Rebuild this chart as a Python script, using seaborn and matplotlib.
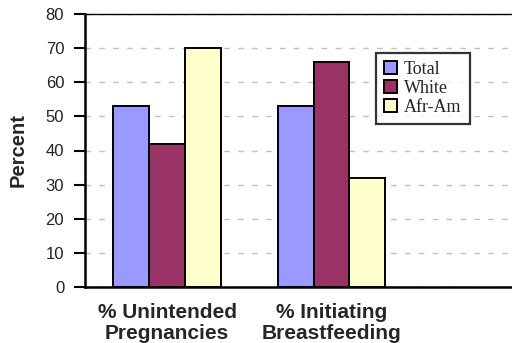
import matplotlib
matplotlib.use("Agg")
import matplotlib.pyplot as plt
import seaborn as sns
import pandas as pd

categories = ["% Unintended\nPregnancies", "% Initiating\nBreastfeeding"]
groups = ["Total", "White", "Afr-Am"]
unintended = [53, 42, 70]
breastfeeding = [53, 66, 32]
colors = ["#9999FF", "#993366", "#FFFFCC"]
y_ticks = [0, 10, 20, 30, 40, 50, 60, 70, 80]

rows = []
for g, a, b in zip(groups, unintended, breastfeeding):
    rows.append({"measure": categories[0], "group": g, "value": a})
    rows.append({"measure": categories[1], "group": g, "value": b})
df = pd.DataFrame(rows)

sns.set_style("white")
plt.rcParams["font.family"] = ["Liberation Sans", "DejaVu Sans"]

fig = plt.figure(figsize=(5.12, 3.43), dpi=100)
# the plot area runs past the right edge, leaving room for a third (empty) slot
ax = fig.add_axes([85 / 512, 56 / 343, 493 / 512, 273 / 343])

sns.barplot(data=df, x="measure", y="value", hue="group", order=categories,
            hue_order=groups, palette=colors, width=0.657, edgecolor="black",
            linewidth=1.4, errorbar=None, saturation=1, ax=ax, zorder=3)

ax.set_xlim(-0.5, 2.5)
ax.set_ylim(0, 80)
ax.set_yticks(y_ticks)
ax.set_yticklabels([str(t) for t in y_ticks], fontsize=12, color="#222222")
ax.yaxis.grid(True, linestyle=(0, (4, 6)), color="#c0c0c0", linewidth=1.0, zorder=0)
ax.xaxis.grid(False)
ax.set_axisbelow(True)

ax.set_xticks([0, 1])
ax.set_xticklabels(categories, fontsize=15, fontweight="bold", linespacing=1.12)
ax.tick_params(axis="x", which="major", length=0, pad=11.5)
ax.set_xticks([-0.5, 0.5, 1.5], minor=True)
ax.tick_params(axis="x", which="minor", length=4, width=1.5, direction="out", color="black")
ax.tick_params(axis="y", length=8, width=1.5, direction="out", color="black", pad=7, left=True)

ax.set_xlabel("")
ax.set_ylabel("Percent", fontsize=14.5, fontweight="bold", labelpad=13)

for side in ["left", "bottom", "top"]:
    ax.spines[side].set_visible(True)
    ax.spines[side].set_color("black")
ax.spines["left"].set_linewidth(1.8)
ax.spines["bottom"].set_linewidth(1.8)
ax.spines["top"].set_linewidth(1.0)
ax.spines["right"].set_visible(False)

ax.legend_.remove()
handles = [plt.Rectangle((0, 0), 1, 1, facecolor=c, edgecolor="black", linewidth=1.4)
           for c in colors]
leg = fig.legend(handles, groups, loc="upper left", bbox_to_anchor=(376 / 512, 1 - 53 / 343),
                 bbox_transform=fig.transFigure, frameon=True, fancybox=False,
                 borderaxespad=0, handlelength=0.7, handleheight=0.7, handletextpad=0.4,
                 labelspacing=0.1, borderpad=0.45,
                 prop={"family": "Liberation Serif", "size": 13})
leg.get_frame().set_edgecolor("black")
leg.get_frame().set_linewidth(1.6)

fig.savefig("out.png", dpi=100)
